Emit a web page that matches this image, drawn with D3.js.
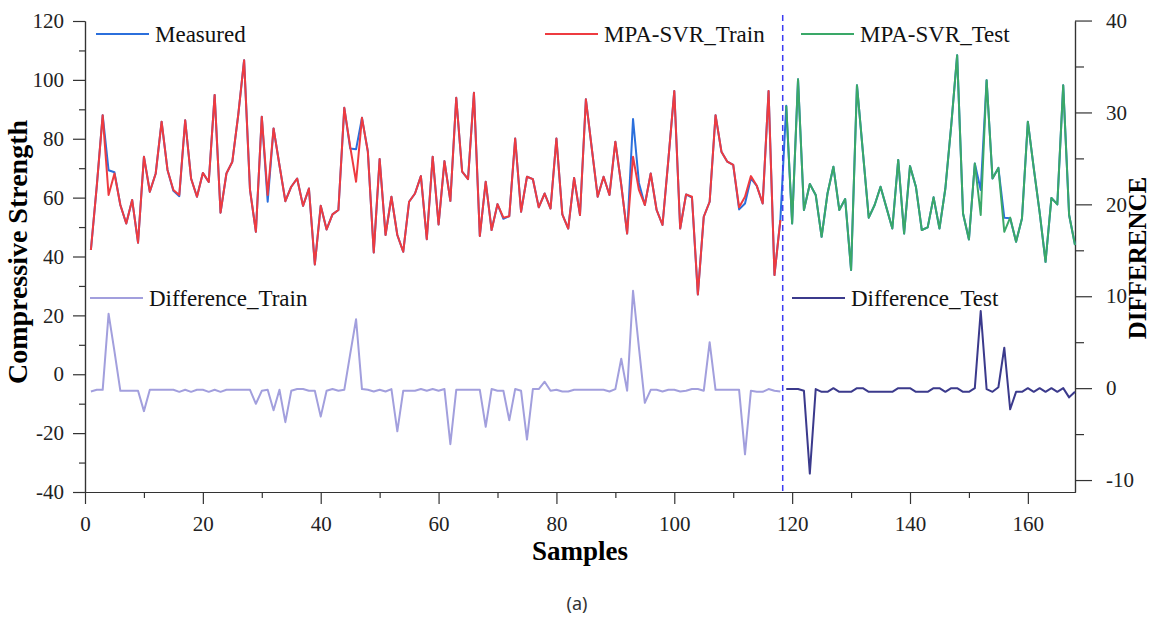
<!DOCTYPE html>
<html lang="en">
<head>
<meta charset="UTF-8">
<title>MPA-SVR compressive strength</title>
<script src="https://d3js.org/d3.v7.min.js"></script>
<style>
  body { margin: 0; background: #fff; }
  .axis path, .axis line { stroke: #333; stroke-width: 1.2px; }
  .legend { font-family: "Liberation Serif", "Times New Roman", serif; font-size: 23px; fill: #111; }
  .title { font-family: "Liberation Serif", "Times New Roman", serif; font-weight: bold; fill: #000; }
</style>
</head>
<body>
<svg width="1151" height="618"></svg>
<script>
// measured strength, samples 1..168
const measured = [
  42.2, 64, 88.0, 69.3, 68.6, 57.5, 51.2, 59.2, 44.7, 73.9,
  62.0, 68.2, 85.8, 69.4, 62.3, 60.5, 86.3, 66.5, 60.3, 68.4,
  65.3, 94.9, 54.9, 68.2, 72.2, 88, 106.7, 62.6, 48.4, 87.5,
  58.6, 83.5, 71, 58.8, 63.7, 66.5, 57.2, 63.1, 37.3, 57.2,
  49.2, 54.3, 55.8, 90.5, 76.7, 76.4, 87.1, 75.6, 41.4, 73.1,
  47.3, 60.3, 47.3, 41.6, 58.6, 61.4, 67.3, 45.9, 73.9, 50.9,
  72.4, 58.9, 93.9, 68.8, 66.3, 95.6, 47.0, 65.4, 49.0, 57.8,
  52.8, 53.7, 80.1, 55.2, 67.1, 66.3, 56.7, 61.4, 56.3, 80.1,
  54.3, 49.5, 66.7, 54.1, 93.4, 76.7, 60.3, 67.1, 60.9, 79.0,
  64.3, 47.8, 86.7, 65.0, 57.5, 68.2, 55.8, 50.7, 73, 96.2,
  49.5, 61.1, 60.0, 27.1, 53.5, 58.6, 88.0, 75.6, 72.2, 71.1,
  56.0, 58.0, 66.5, 64.0, 58.0, 96.2, 33.7, 52.4,
  91.2, 51.2, 100.2, 55.8, 64.6, 60.9, 46.7, 61.4, 70.5, 55.8,
  59.5, 35.4, 98.2, 75.6, 53.2, 57.5, 63.7, 56.6, 49.5, 72.8,
  47.8, 70.7, 63.7, 49.0, 49.9, 60.1, 49.5, 63.1, 84.6, 108.4,
  54.6, 45.8, 71.6, 62.6, 99.9, 66.5, 70.1, 53.2, 53.0, 45.0,
  52.9, 85.8, 70, 55, 38.2, 59.9, 57.7, 98.2, 54.1, 43.9
];

// MPA-SVR predictions, training samples 1..118
const predTrain = [
  42.2, 64, 88.0, 60.9, 68.2, 57.5, 51.2, 59.2, 44.7, 73.9,
  62.0, 68.2, 85.8, 69.4, 62.6, 60.9, 86.3, 66.5, 60.3, 68.4,
  65.3, 94.9, 54.9, 68.2, 72.2, 88, 106.7, 62.6, 48.4, 87.5,
  60.9, 83.5, 71, 58.8, 63.7, 66.5, 57.2, 63.1, 37.3, 57.2,
  49.2, 54.3, 55.8, 90.5, 77.3, 65.4, 87.1, 75.6, 41.4, 73.1,
  47.3, 60.3, 47.3, 41.6, 58.6, 61.4, 67.3, 45.9, 73.9, 50.9,
  72.4, 58.9, 93.9, 68.8, 66.3, 95.6, 47.0, 65.4, 49.0, 57.8,
  53.2, 53.7, 80.1, 55.2, 67.1, 66.3, 56.7, 61.4, 56.3, 80.1,
  54.3, 49.5, 66.7, 54.1, 93.4, 76.7, 60.3, 67.1, 60.9, 79.0,
  64.3, 47.8, 73.9, 62.6, 57.5, 68.2, 55.8, 50.7, 73, 96.2,
  49.5, 61.1, 60.3, 27.1, 53.5, 58.6, 88.0, 75.6, 72.2, 71.1,
  56.7, 60.3, 67.3, 64.0, 58.0, 96.2, 33.7, 52.4
];

// MPA-SVR predictions, test samples 119..168
const predTest = [
  91.2, 51.2, 100.2, 55.8, 64.6, 60.9, 46.7, 61.4, 70.5, 55.8,
  59.5, 35.4, 98.2, 75.6, 53.2, 57.5, 63.7, 56.6, 49.5, 72.8,
  47.8, 70.7, 63.7, 49.0, 49.9, 60.1, 49.5, 63.1, 84.6, 108.4,
  54.6, 45.8, 71.6, 54.1, 99.9, 66.5, 70.1, 48.4, 53.2, 45.0,
  52.9, 85.8, 70, 55, 38.2, 59.9, 57.7, 98.2, 54.1, 43.9
];

// differences (right axis), training 1..118
const diffTrain = [
  -0.36, -0.18, -0.18, 8.1, 4.0, -0.29, -0.29, -0.29, -0.29, -2.5,
  -0.18, -0.18, -0.18, -0.18, -0.18, -0.4, -0.18, -0.4, -0.18, -0.18,
  -0.4, -0.18, -0.4, -0.18, -0.18, -0.18, -0.18, -0.18, -1.7, -0.29,
  -0.18, -2.4, -0.18, -3.7, -0.29, -0.1, -0.1, -0.29, -0.29, -3.1,
  -0.29, -0.1, -0.29, -0.18, 3.7, 7.5, -0.1, -0.18, -0.36, -0.18,
  -0.36, -0.1, -4.7, -0.29, -0.29, -0.29, -0.1, -0.29, -0.1, -0.29,
  -0.1, -6.1, -0.18, -0.18, -0.18, -0.18, -0.18, -4.2, -0.1, -0.29,
  -0.29, -3.5, -0.1, -0.29, -5.6, -0.1, -0.1, 0.7, -0.29, -0.18,
  -0.36, -0.36, -0.18, -0.18, -0.18, -0.18, -0.18, -0.18, -0.36, -0.1,
  3.2, -0.29, 10.6, 4.4, -1.6, -0.18, -0.18, -0.36, -0.18, -0.18,
  -0.36, -0.29, -0.1, -0.1, -0.29, 5.0, -0.18, -0.18, -0.18, -0.18,
  -0.18, -7.2, -0.29, -0.4, -0.4, -0.1, -0.29, -0.36
];

// differences (right axis), test 119..168
const diffTest = [
  -0.1, -0.1, -0.1, -0.29, -9.3, -0.1, -0.4, -0.4, 0, -0.4,
  -0.4, -0.4, 0, 0, -0.4, -0.4, -0.4, -0.4, -0.4, 0,
  0, 0, -0.4, -0.4, -0.4, 0, 0, -0.4, 0, 0,
  -0.4, -0.4, 0, 8.4, -0.1, -0.4, 0.1, 4.4, -2.3, -0.4,
  -0.4, 0, -0.4, 0, -0.4, 0, -0.4, 0, -1.0, -0.4
];

const xTicks = [0, 20, 40, 60, 80, 100, 120, 140, 160];
const leftTicks = [-40, -20, 0, 20, 40, 60, 80, 100, 120];
const rightTicks = [-10, 0, 10, 20, 30, 40];
const splitAt = 118.4;

const colors = {
  measured: "#2b6fdc",
  train: "#ee3b40",
  test: "#3aa868",
  diffTrain: "#a29fdd",
  diffTest: "#3b3a8c"
};

const svg = d3.select("svg");
const plotL = 85, plotR = 1075, plotT = 21, plotB = 492;

const x = d3.scaleLinear().domain([0, 168]).range([plotL, plotR]);
const yL = d3.scaleLinear().domain([-40, 120]).range([plotB, plotT]);
const yR = d3.scaleLinear().domain([-11.3, 39.95]).range([plotB, plotT]);

const trainIdx = d3.range(1, predTrain.length + 1);
const testIdx = d3.range(predTrain.length + 1, predTrain.length + predTest.length + 1);
const allIdx = d3.range(1, measured.length + 1);

const plain = d => String(d);

function addAxis(axis, tx, ty) {
  const g = svg.append("g").attr("class", "axis")
    .attr("transform", `translate(${tx},${ty})`)
    .call(axis);
  g.attr("font-family", "'Liberation Serif', 'Times New Roman', serif")
    .attr("font-size", 21);
  g.selectAll(".tick text").attr("fill", "#222");
  return g;
}

// axes: minor ticks, then major ticks with labels
addAxis(d3.axisLeft(yL).tickValues(d3.range(-30, 120, 20)).tickSize(6).tickSizeOuter(0).tickFormat(""), plotL, 0);
addAxis(d3.axisLeft(yL).tickValues(leftTicks).tickSize(12).tickSizeOuter(0).tickPadding(9).tickFormat(plain), plotL, 0);

addAxis(d3.axisRight(yR).tickValues(d3.range(-5, 40, 10)).tickSize(9).tickSizeOuter(0).tickFormat(""), plotR, 0);
addAxis(d3.axisRight(yR).tickValues(rightTicks).tickSize(17).tickSizeOuter(0).tickPadding(14).tickFormat(plain), plotR, 0);

addAxis(d3.axisBottom(x).tickValues(d3.range(10, 168, 20)).tickSize(6).tickSizeOuter(0).tickFormat(""), 0, plotB);
addAxis(d3.axisBottom(x).tickValues(xTicks).tickSize(12).tickSizeOuter(0).tickPadding(12).tickFormat(plain), 0, plotB);

// lines
const lineL = d3.line().x(d => x(d[0])).y(d => yL(d[1]));
const lineR = d3.line().x(d => x(d[0])).y(d => yR(d[1]));

function draw(gen, idx, vals, color) {
  svg.append("path")
    .datum(idx.map((s, i) => [s, vals[i]]))
    .attr("d", gen)
    .attr("fill", "none")
    .attr("stroke", color)
    .attr("stroke-width", 2)
    .attr("stroke-linejoin", "round");
}

draw(lineL, allIdx, measured, colors.measured);
draw(lineL, trainIdx, predTrain, colors.train);
draw(lineL, testIdx, predTest, colors.test);
draw(lineR, trainIdx, diffTrain, colors.diffTrain);
draw(lineR, testIdx, diffTest, colors.diffTest);

svg.append("line")
  .attr("x1", x(splitAt)).attr("x2", x(splitAt))
  .attr("y1", 15).attr("y2", plotB)
  .attr("stroke", "#3b3bf2")
  .attr("stroke-width", 1.5)
  .attr("stroke-dasharray", "6,4");

// legends
const legends = [
  { name: "Measured", color: colors.measured, x: 96, y: 34 },
  { name: "MPA-SVR_Train", color: colors.train, x: 545, y: 34 },
  { name: "MPA-SVR_Test", color: colors.test, x: 801, y: 34 },
  { name: "Difference_Train", color: colors.diffTrain, x: 90, y: 298 },
  { name: "Difference_Test", color: colors.diffTest, x: 792, y: 298 }
];
const lg = svg.append("g").selectAll("g").data(legends).enter().append("g");
lg.append("line")
  .attr("x1", d => d.x).attr("x2", d => d.x + 53)
  .attr("y1", d => d.y).attr("y2", d => d.y)
  .attr("stroke", d => d.color).attr("stroke-width", 2);
lg.append("text")
  .attr("class", "legend")
  .attr("x", d => d.x + 59)
  .attr("y", d => d.y + 8)
  .text(d => d.name);

// titles
svg.append("text").attr("class", "title")
  .attr("transform", "translate(27,252) rotate(-90)")
  .attr("text-anchor", "middle")
  .style("font-size", "28px")
  .text("Compressive Strength");

svg.append("text").attr("class", "title")
  .attr("x", 580).attr("y", 560)
  .attr("text-anchor", "middle")
  .style("font-size", "27px")
  .text("Samples");

svg.append("text").attr("class", "title")
  .attr("transform", "translate(1146,258) rotate(-90)")
  .attr("text-anchor", "middle")
  .style("font-size", "25px")
  .text("DIFFERENCE");

svg.append("text")
  .attr("x", 577).attr("y", 610)
  .attr("text-anchor", "middle")
  .style("font-family", "'Noto Sans', 'DejaVu Sans', sans-serif")
  .style("font-size", "18px")
  .style("fill", "#333")
  .text("(a)");
</script>
</body>
</html>
